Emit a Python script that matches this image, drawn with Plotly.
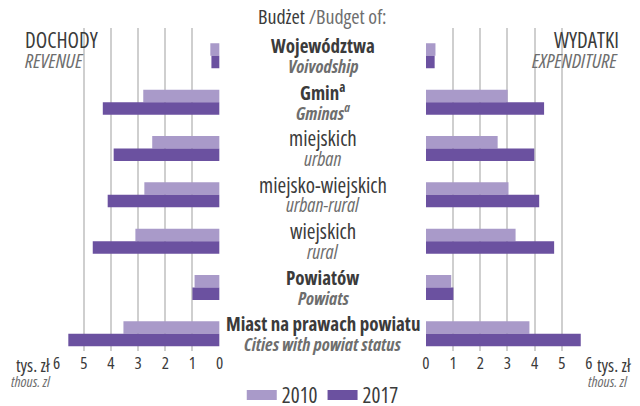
import plotly.graph_objects as go

# Budget categories (Polish / English) and per-capita values, thous. zl
cat_pl = ["Województwa", "Gmin<sup>a</sup>", "miejskich", "miejsko-wiejskich",
          "wiejskich", "Powiatów", "Miast na prawach powiatu"]
cat_en = ["Voivodship", "Gminas<sup>a</sup>", "urban", "urban-rural",
          "rural", "Powiats", "Cities with powiat status"]
cat_bold = [True, True, False, False, False, True, True]
cat_keys = ["woj", "gmin", "miej", "mw", "wiej", "pow", "mnpp"]

revenue_2010 = [0.34, 2.81, 2.48, 2.77, 3.10, 0.92, 3.54]
revenue_2017 = [0.30, 4.30, 3.90, 4.12, 4.67, 1.00, 5.57]
expend_2010 = [0.35, 3.01, 2.64, 3.04, 3.30, 0.93, 3.81]
expend_2017 = [0.32, 4.35, 3.99, 4.17, 4.72, 1.01, 5.70]

ticks = [0, 1, 2, 3, 4, 5, 6]
years = ["2010", "2017"]

C_LIGHT = "#a99ac9"
C_DARK = "#6b51a0"
DARK = "#3b3b3b"
GREY = "#6e6e6e"
GRID = "#cfcfcf"
FONT = "Open Sans"


def cn(s):
    """Render a label in the condensed width of the font."""
    return f"<span style='font-stretch:condensed'>{s}</span>"


W, H = 640, 406
TOP, PLOT_H = 27.5, 326
left_dom = [53.3 / W, 218.3 / W]
right_dom = [427.3 / W, 592.3 / W]
mid_x = (left_dom[1] + right_dom[0]) / 2

fig = go.Figure()
for name, vals, col in [(years[0], revenue_2010, C_LIGHT), (years[1], revenue_2017, C_DARK)]:
    fig.add_trace(go.Bar(y=cat_keys, x=vals, orientation="h", name=name,
                         marker=dict(color=col, line=dict(width=0)),
                         xaxis="x", yaxis="y", showlegend=False))
for name, vals, col in [(years[0], expend_2010, C_LIGHT), (years[1], expend_2017, C_DARK)]:
    fig.add_trace(go.Bar(y=cat_keys, x=vals, orientation="h", name=name,
                         marker=dict(color=col, line=dict(width=0)),
                         xaxis="x2", yaxis="y", showlegend=False))
# legend keys: thick colour swatches for the two years
for name, col in [(years[0], C_LIGHT), (years[1], C_DARK)]:
    fig.add_trace(go.Scatter(x=[None], y=[None], mode="lines", name=cn(name),
                             line=dict(color=col, width=15),
                             xaxis="x", yaxis="y", showlegend=True, hoverinfo="skip"))

axis_common = dict(tickvals=ticks, ticktext=[cn(str(t)) for t in ticks],
                   showgrid=True, gridcolor=GRID, gridwidth=1.5,
                   zeroline=False, showline=False, ticks="",
                   tickfont=dict(family=FONT, size=17, color=DARK),
                   fixedrange=True)
fig.update_layout(
    width=W, height=H,
    margin=dict(l=0, r=0, t=TOP, b=H - TOP - PLOT_H),
    paper_bgcolor="white", plot_bgcolor="white",
    barmode="group", bargap=0.46, bargroupgap=0,
    font=dict(family=FONT, color=DARK),
    xaxis=dict(domain=left_dom, range=[6, 0], anchor="y", **axis_common),
    xaxis2=dict(domain=right_dom, range=[0, 6], anchor="y", **axis_common),
    yaxis=dict(categoryorder="array", categoryarray=cat_keys,
               range=[6.38, -0.6], showticklabels=False, showgrid=False,
               zeroline=False, ticks="", fixedrange=True),
    legend=dict(orientation="h", x=mid_x, xanchor="center",
                yref="container", y=0.026, yanchor="middle",
                font=dict(family=FONT, size=21, color=DARK),
                traceorder="normal", itemwidth=30, bgcolor="rgba(0,0,0,0)"),
    showlegend=True,
)

# white panels behind the side headings, hiding the gridlines there
fig.add_shape(type="rect", xref="paper", yref="paper", layer="between",
              x0=0, x1=95 / W, y0=1 - (87 - TOP) / PLOT_H, y1=1.0,
              fillcolor="white", line=dict(width=0))
fig.add_shape(type="rect", xref="paper", yref="paper", layer="between",
              x0=528 / W, x1=1.0, y0=1 - (81 - TOP) / PLOT_H, y1=1.0,
              fillcolor="white", line=dict(width=0))

ann = []
# heading above the category labels
ann.append(dict(xref="paper", yref="paper", x=mid_x, y=1, yanchor="bottom", yshift=-4,
                showarrow=False, align="center",
                text=cn(f"Budżet <span style='color:{GREY}'>/Budget of:</span>"),
                font=dict(family=FONT, size=20, color=DARK)))
# side headings
ann.append(dict(xref="paper", yref="paper", x=19 / W, xanchor="left", y=1, yanchor="top",
                yshift=4, showarrow=False, align="left",
                text=cn("DOCHODY"), font=dict(family=FONT, size=21, color=DARK)))
ann.append(dict(xref="paper", yref="paper", x=19 / W, xanchor="left", y=1, yanchor="top",
                yshift=-17, showarrow=False, align="left",
                text=cn("<i>REVENUE</i>"), font=dict(family=FONT, size=20, color=GREY)))
ann.append(dict(xref="paper", yref="paper", x=625 / W, xanchor="right", y=1, yanchor="top",
                yshift=4, showarrow=False, align="right",
                text=cn("WYDATKI"), font=dict(family=FONT, size=21, color=DARK)))
ann.append(dict(xref="paper", yref="paper", x=625 / W, xanchor="right", y=1, yanchor="top",
                yshift=-17, showarrow=False, align="right",
                text=cn("<i>EXPENDITURE</i>"), font=dict(family=FONT, size=20, color=GREY)))
# unit labels beside the axes
ann.append(dict(xref="paper", yref="paper", x=50 / W, xanchor="right", y=0, yanchor="top",
                yshift=0, showarrow=False, text=cn("tys. zł"),
                font=dict(family=FONT, size=18, color=DARK)))
ann.append(dict(xref="paper", yref="paper", x=50 / W, xanchor="right", y=0, yanchor="top",
                yshift=-18, showarrow=False, text=cn("<i>thous. zl</i>"),
                font=dict(family=FONT, size=15, color=GREY)))
ann.append(dict(xref="paper", yref="paper", x=598 / W, xanchor="left", y=0, yanchor="top",
                yshift=0, showarrow=False, text=cn("tys. zł"),
                font=dict(family=FONT, size=18, color=DARK)))
ann.append(dict(xref="paper", yref="paper", x=634 / W, xanchor="right", y=0, yanchor="top",
                yshift=-18, showarrow=False, text=cn("<i>thous. zl</i>"),
                font=dict(family=FONT, size=15, color=GREY)))

# category labels between the two panels
for key, pl, en, bold in zip(cat_keys, cat_pl, cat_en, cat_bold):
    if bold:
        pl_txt, pl_size = f"<b>{pl}</b>", 19
        en_txt, en_size = f"<b><i>{en}</i></b>", 18
    else:
        pl_txt, pl_size = pl, 21
        en_txt, en_size = f"<i>{en}</i>", 19.5
    ann.append(dict(xref="paper", yref="y", x=mid_x, y=key, yshift=10, showarrow=False,
                    text=cn(pl_txt), font=dict(family=FONT, size=pl_size, color=DARK)))
    ann.append(dict(xref="paper", yref="y", x=mid_x, y=key, yshift=-10, showarrow=False,
                    text=cn(en_txt), font=dict(family=FONT, size=en_size, color=GREY)))
fig.update_layout(annotations=ann)

fig.write_html("out.html")
